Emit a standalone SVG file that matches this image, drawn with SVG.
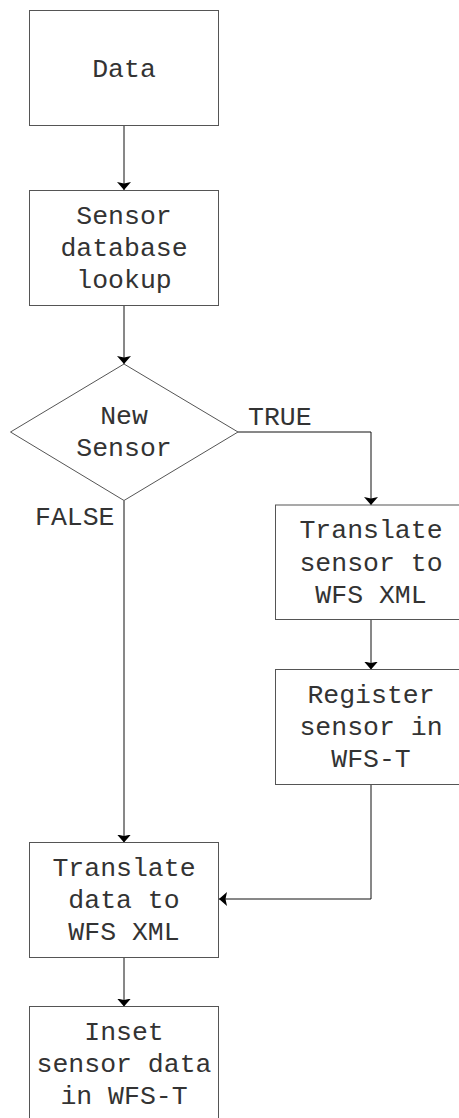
<svg xmlns="http://www.w3.org/2000/svg" width="459" height="1118" viewBox="0 0 459 1118">
<defs>
<style>
.box{fill:#fff;stroke:#555;stroke-width:1}
.t{font-family:"Liberation Mono","Courier New",monospace;font-size:26.5px;fill:#333;text-anchor:middle}
.l{font-family:"Liberation Mono","Courier New",monospace;font-size:26.5px;fill:#333}
.c{fill:none;stroke:#111;stroke-width:1}
</style>
<marker id="ah" markerWidth="10" markerHeight="14" refX="8" refY="7" orient="auto" markerUnits="userSpaceOnUse">
<path d="M0,0 L8,7 L0,14 L1.5,7 Z" fill="#000"/>
</marker>
</defs>
<rect width="459" height="1118" fill="#fff"/>
<g id="connectors">
<path class="c" d="M124,125.5 V190" marker-end="url(#ah)"/>
<path class="c" d="M124,305.5 V364" marker-end="url(#ah)"/>
<path class="c" d="M238,432 H371 V505" marker-end="url(#ah)"/>
<path class="c" d="M371,619.5 V669.5" marker-end="url(#ah)"/>
<path class="c" d="M124,500.5 V842.5" marker-end="url(#ah)"/>
<path class="c" d="M371,784.5 V899 H219" marker-end="url(#ah)"/>
<path class="c" d="M124,957.5 V1006.5" marker-end="url(#ah)"/>
<text class="l" x="248" y="425">TRUE</text>
<text class="l" x="35" y="525">FALSE</text>
</g>
<g id="data">
<rect class="box" x="29.5" y="10.5" width="189" height="115"/>
<text class="t" x="124" y="77">Data</text>
</g>
<g id="lookup">
<rect class="box" x="29.5" y="190.5" width="189" height="115"/>
<text class="t" x="124" y="224">Sensor</text>
<text class="t" x="124" y="256">database</text>
<text class="t" x="124" y="288">lookup</text>
</g>
<g id="newsensor">
<path class="box" d="M124,364 L238,432 L124,500.5 L10.5,432 Z"/>
<text class="t" x="124" y="424">New</text>
<text class="t" x="124" y="456">Sensor</text>
</g>
<g id="translatesensor">
<rect class="box" x="275.5" y="505" width="191" height="114.5"/>
<text class="t" x="371" y="538">Translate</text>
<text class="t" x="371" y="570.5">sensor to</text>
<text class="t" x="371" y="603">WFS XML</text>
</g>
<g id="register">
<rect class="box" x="275.5" y="669.5" width="191" height="115"/>
<text class="t" x="371" y="703">Register</text>
<text class="t" x="371" y="735">sensor in</text>
<text class="t" x="371" y="767">WFS-T</text>
</g>
<g id="translatedata">
<rect class="box" x="29.5" y="842.5" width="189" height="115"/>
<text class="t" x="124" y="876">Translate</text>
<text class="t" x="124" y="908">data to</text>
<text class="t" x="124" y="940">WFS XML</text>
</g>
<g id="inset">
<rect class="box" x="29.5" y="1006.5" width="189" height="115"/>
<text class="t" x="124" y="1040">Inset</text>
<text class="t" x="124" y="1072">sensor data</text>
<text class="t" x="124" y="1104">in WFS-T</text>
</g>
</svg>
